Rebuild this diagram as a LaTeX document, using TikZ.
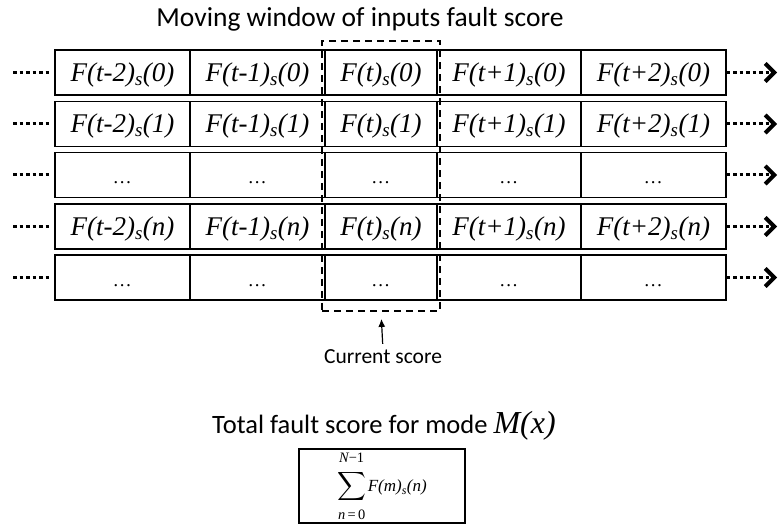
\documentclass[tikz,border=0pt]{standalone}
\usepackage{fontspec}
\setmainfont{Liberation Serif}
\newfontfamily\capfont{Carlito}
\usetikzlibrary{arrows.meta}

\tikzset{
  cell/.style={draw, line width=1.2pt, inner sep=0pt, minimum height=45pt,
    text height=22pt, text depth=4pt, font=\fontsize{27}{30}\selectfont\itshape},
  colA/.style={cell, minimum width=135pt},
  colB/.style={cell, minimum width=112pt},
  colC/.style={cell, minimum width=144pt},
  colD/.style={cell, minimum width=145pt},
  feed/.style={line width=3pt, dash pattern=on 3.5pt off 3pt},
  caption/.style={inner sep=0pt, anchor=base, font=\capfont}
}
\newcommand{\fs}[2]{F(#1)\textsubscript{s}(#2)}
\newcommand{\gap}{{\fontsize{19}{20}\selectfont\ldots}}
\newcommand{\sumlim}[2]{\raisebox{#1}{\fontsize{7.2}{8}\selectfont #2}}

\begin{document}
\begin{tikzpicture}[x=1pt, y=-1pt]
			%%%%% START %%%%%
			\useasboundingbox (0, 0) rectangle (780, 526);
			
			\node[caption, font=\capfont\fontsize{27.5}{30}\selectfont] (title) at (360, 27) {Moving window of inputs fault score};
			
			% row 0
			\node[colA] (c11) at (122.5, 72.5) {\fs{t-2}{0}};
			\node[colA] (c12) at (257.5, 72.5) {\fs{t-1}{0}};
			\node[colB] (c13) at (381, 72.5) {\fs{t}{0}};
			\node[colC] (c14) at (509, 72.5) {\fs{t+1}{0}};
			\node[colD] (c15) at (653.5, 72.5) {\fs{t+2}{0}};
			% row 1
			\node[colA] (c21) at (122.5, 124) {\fs{t-2}{1}};
			\node[colA] (c22) at (257.5, 124) {\fs{t-1}{1}};
			\node[colB] (c23) at (381, 124) {\fs{t}{1}};
			\node[colC] (c24) at (509, 124) {\fs{t+1}{1}};
			\node[colD] (c25) at (653.5, 124) {\fs{t+2}{1}};
			% row ...
			\node[colA] (c31) at (122.5, 175) {\gap};
			\node[colA] (c32) at (257.5, 175) {\gap};
			\node[colB] (c33) at (381, 175) {\gap};
			\node[colC] (c34) at (509, 175) {\gap};
			\node[colD] (c35) at (653.5, 175) {\gap};
			% row n
			\node[colA] (c41) at (122.5, 226.5) {\fs{t-2}{n}};
			\node[colA] (c42) at (257.5, 226.5) {\fs{t-1}{n}};
			\node[colB] (c43) at (381, 226.5) {\fs{t}{n}};
			\node[colC] (c44) at (509, 226.5) {\fs{t+1}{n}};
			\node[colD] (c45) at (653.5, 226.5) {\fs{t+2}{n}};
			% row ...
			\node[colA] (c51) at (122.5, 277.5) {\gap};
			\node[colA] (c52) at (257.5, 277.5) {\gap};
			\node[colB] (c53) at (381, 277.5) {\gap};
			\node[colC] (c54) at (509, 277.5) {\gap};
			\node[colD] (c55) at (653.5, 277.5) {\gap};
			
			\coordinate (l1) at (13, 72.5);
			\coordinate (l2) at (13, 124);
			\coordinate (l3) at (13, 175);
			\coordinate (l4) at (13, 226.5);
			\coordinate (l5) at (13, 277.5);
			\coordinate (r1) at (777, 72.5);
			\coordinate (r2) at (777, 124);
			\coordinate (r3) at (777, 175);
			\coordinate (r4) at (777, 226.5);
			\coordinate (r5) at (777, 277.5);
			
			\draw[feed, shorten >=3pt] (l1) -- (c11.west);
			\draw[feed, shorten >=3pt] (l2) -- (c21.west);
			\draw[feed, shorten >=3pt] (l3) -- (c31.west);
			\draw[feed, shorten >=3pt] (l4) -- (c41.west);
			\draw[feed, shorten >=3pt] (l5) -- (c51.west);
			\draw[feed, -{Straight Barb[length=9pt, width=18pt, line width'=4pt]}] (c15.east) -- (r1);
			\draw[feed, -{Straight Barb[length=9pt, width=18pt, line width'=4pt]}] (c25.east) -- (r2);
			\draw[feed, -{Straight Barb[length=9pt, width=18pt, line width'=4pt]}] (c35.east) -- (r3);
			\draw[feed, -{Straight Barb[length=9pt, width=18pt, line width'=4pt]}] (c45.east) -- (r4);
			\draw[feed, -{Straight Barb[length=9pt, width=18pt, line width'=4pt]}] (c55.east) -- (r5);
			
			\node[draw, line width=1.8pt, dash pattern=on 7pt off 5pt, inner sep=0pt,
			      minimum width=118pt, minimum height=270pt] (win) at (381, 176) {};
			\node[caption, font=\capfont\fontsize{21.5}{24}\selectfont] (cur) at (383, 364) {Current score};
			\draw[line width=1.2pt, -{Latex[length=8pt, width=7pt]}, shorten <=6pt, shorten >=7pt] (cur.north) -- (win.south);
			
			\node[caption, font=\capfont\fontsize{26.5}{30}\selectfont] (total) at (384, 434)
			     {Total fault score for mode {\rmfamily\itshape\fontsize{32}{34}\selectfont M(x)}};
			\node[draw, line width=1.2pt, inner sep=0pt, minimum width=166pt, minimum height=74pt] (sum) at (382, 486)
			     {\scalebox{2.0}{$\displaystyle\sum^{\sumlim{2.2pt}{\itshape N\upshape\textminus 1}}_{\sumlim{-2.2pt}{\itshape n\upshape\,=\,0}}$}\,{\fontsize{17}{20}\selectfont\itshape\fs{m}{n}}};
			
			%%%%% END %%%%%
		\end{tikzpicture}
\end{document}
